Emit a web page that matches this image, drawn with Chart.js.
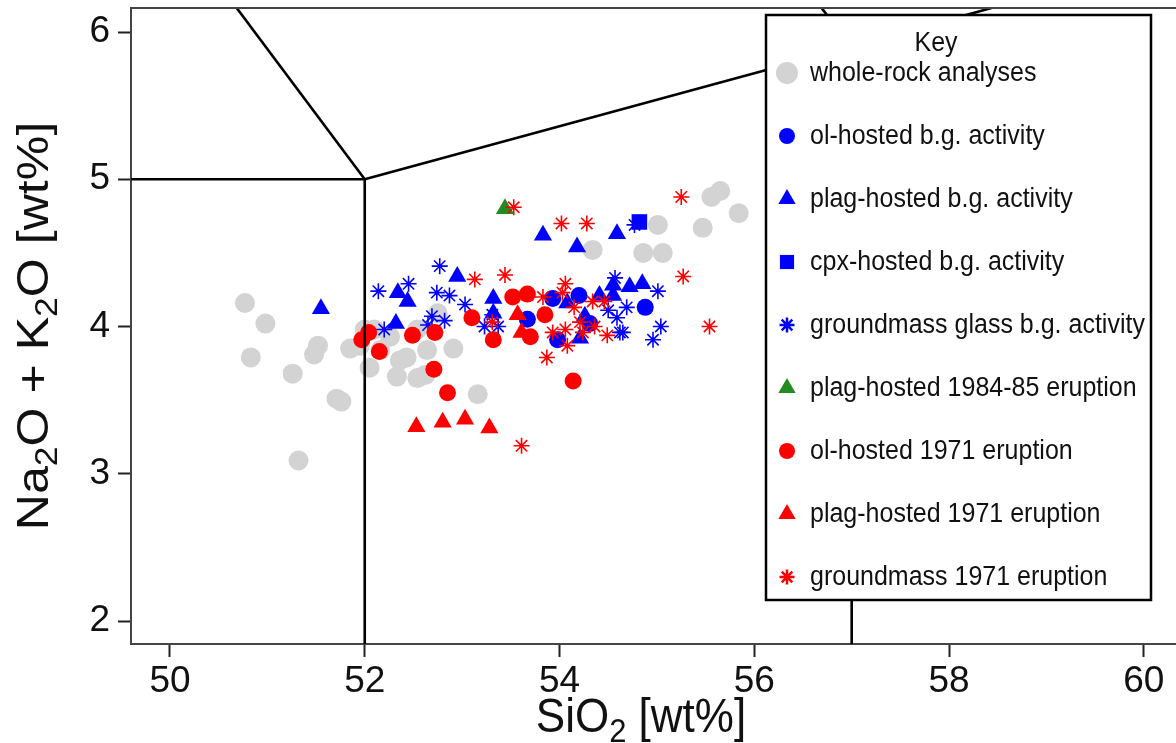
<!DOCTYPE html>
<html>
<head>
<meta charset="utf-8">
<script src="https://cdn.jsdelivr.net/npm/chart.js@4/dist/chart.umd.min.js"></script>
<style>
  html, body { margin: 0; padding: 0; background: #fff; }
  #wrap { width: 1176px; height: 743px; }
</style>
</head>
<body>
<div id="wrap"><canvas id="tas" width="1176" height="743"></canvas></div>
<script>
// values: SiO2 (x) and Na2O+K2O (y), wt%
var wholeRockSi  = [50.77, 50.98, 50.83, 51.26, 51.32, 51.52, 51.48, 51.71, 51.76, 51.85, 52.00, 52.05, 52.16, 52.26, 52.33, 52.43, 52.54, 52.54, 52.62, 52.64, 52.75, 52.91, 53.16, 52.10, 52.36, 51.95, 54.34, 55.01, 54.86, 55.06, 55.56, 55.65, 55.47, 55.84];
var wholeRockAlk = [4.16, 4.02, 3.79, 3.68, 3.09, 3.87, 3.81, 3.51, 3.49, 3.85, 3.98, 3.72, 3.84, 3.93, 3.66, 3.79, 3.98, 3.65, 3.67, 3.84, 4.09, 3.85, 3.54, 3.98, 3.77, 3.87, 4.52, 4.69, 4.50, 4.50, 4.88, 4.92, 4.67, 4.77];

var olBgSi  = [53.93, 54.20, 53.67, 53.98, 54.31, 54.88];
var olBgAlk = [4.19, 4.21, 4.05, 3.91, 4.02, 4.13];

var plagBgSi  = [51.55, 52.34, 52.44, 52.32, 52.95, 53.32, 53.32, 53.83, 54.18, 54.59, 54.41, 54.55, 54.55, 54.72, 54.85, 54.08, 54.26, 54.21];
var plagBgAlk = [4.12, 4.23, 4.17, 4.02, 4.34, 4.19, 4.09, 4.62, 4.54, 4.63, 4.21, 4.28, 4.21, 4.27, 4.29, 4.16, 4.07, 3.92];

var cpxBgSi  = [54.82];
var cpxBgAlk = [4.71];

var gmBgSi  = [52.77, 52.14, 52.45, 52.74, 52.87, 53.03, 52.69, 52.82, 52.65, 52.20, 53.23, 53.37, 53.31, 54.57, 54.50, 54.69, 54.59, 54.62, 54.65, 55.01, 55.04, 54.96, 54.77];
var gmBgAlk = [4.41, 4.24, 4.29, 4.23, 4.21, 4.15, 4.07, 4.04, 4.01, 3.98, 4.00, 4.00, 4.08, 4.33, 4.11, 4.13, 4.06, 3.96, 3.96, 4.24, 4.00, 3.91, 4.69];

var plag8485Si  = [53.44];
var plag8485Alk = [4.80];

var ol71Si  = [52.04, 51.97, 52.15, 52.49, 52.72, 53.10, 53.52, 53.67, 53.32, 52.71, 52.85, 53.85, 53.70, 54.14];
var ol71Alk = [3.96, 3.91, 3.83, 3.94, 3.96, 4.06, 4.20, 4.22, 3.91, 3.71, 3.55, 4.08, 3.93, 3.63];

var plag71Si  = [52.53, 52.80, 53.03, 53.28, 53.57, 53.61];
var plag71Alk = [3.32, 3.35, 3.37, 3.31, 4.08, 3.96];

var gm71Si  = [53.53, 54.02, 54.28, 55.25, 55.27, 55.54, 53.13, 53.44, 54.06, 54.03, 53.83, 54.15, 54.34, 54.46, 54.21, 54.36, 53.93, 54.06, 54.24, 54.49, 54.08, 53.87, 53.61, 53.31];
var gm71Alk = [4.81, 4.70, 4.70, 4.88, 4.34, 4.00, 4.32, 4.35, 4.29, 4.23, 4.20, 4.13, 4.17, 4.17, 4.03, 4.00, 3.96, 3.98, 3.96, 3.94, 3.87, 3.79, 3.19, 4.03];

// TAS field boundaries (Le Bas et al.) that fall in the window
var tasLinesSi  = [[49.4, 52], [45, 52], [52, 52], [52, 57, 63], [57, 57], [57, 53]];
var tasLinesAlk = [[7.3, 5], [5, 5], [0, 5], [5, 5.9, 7], [0, 5.9], [5.9, 9.3]];

var seriesNames = ['whole-rock analyses', 'ol-hosted b.g. activity', 'plag-hosted b.g. activity',
  'cpx-hosted b.g. activity', 'groundmass glass b.g. activity', 'plag-hosted 1984-85 eruption',
  'ol-hosted 1971 eruption', 'plag-hosted 1971 eruption', 'groundmass 1971 eruption'];

var FONT = '"Liberation Sans", Arial, Helvetica, sans-serif';
var GREY = '#d3d3d3', BLUE = '#0000ff', RED = '#ff0000', GREEN = '#228b22';
var STRETCH = 1.1;   // the original picture is a little taller than wide

function pts(xs, ys) {
    var out = [];
    for (var i = 0; i < xs.length; i++) out.push({ x: xs[i], y: ys[i] });
    return out;
}

// style per series: [pointStyle, radius, colour, legend radius]
var looks = [
    ['circle', 10, GREY, 11],
    ['circle', 8.5, BLUE, 8],
    ['triangle', 10.5, BLUE, 10],
    ['rect', 11, BLUE, 10],
    ['star', 8, BLUE, 7.5],
    ['triangle', 10.5, GREEN, 10],
    ['circle', 8.5, RED, 8],
    ['triangle', 10.5, RED, 10],
    ['star', 8, RED, 7.5]
];
var seriesData = [
    pts(wholeRockSi, wholeRockAlk), pts(olBgSi, olBgAlk), pts(plagBgSi, plagBgAlk),
    pts(cpxBgSi, cpxBgAlk), pts(gmBgSi, gmBgAlk), pts(plag8485Si, plag8485Alk),
    pts(ol71Si, ol71Alk), pts(plag71Si, plag71Alk), pts(gm71Si, gm71Alk)
];

var datasets = [];
for (var k = 0; k < tasLinesSi.length; k++) {
    datasets.push({
        label: 'tas' + k,
        data: pts(tasLinesSi[k], tasLinesAlk[k]),
        showLine: true,
        borderColor: '#000',
        borderWidth: 2.6,
        pointRadius: 0,
        fill: false,
        order: 0
    });
}
for (var s = 0; s < seriesNames.length; s++) {
    var lk = looks[s];
    var isStar = lk[0] === 'star';
    datasets.push({
        label: seriesNames[s],
        data: seriesData[s],
        pointStyle: lk[0],
        pointRadius: lk[1],
        pointHoverRadius: lk[1],
        backgroundColor: lk[2],
        borderColor: lk[2],
        borderWidth: isStar ? 1.6 : 0,
        order: seriesNames.length - s
    });
}

// text with lowered small "2" pieces: [text, isSub]
function richWidth(ctx, parts, big, small) {
    var w = 0;
    for (var i = 0; i < parts.length; i++) {
        ctx.font = (parts[i][1] ? small : big) + 'px ' + FONT;
        w += ctx.measureText(parts[i][0]).width;
    }
    return w;
}
function richText(ctx, parts, x, y, big, small, drop) {
    for (var i = 0; i < parts.length; i++) {
        ctx.font = (parts[i][1] ? small : big) + 'px ' + FONT;
        ctx.fillText(parts[i][0], x, parts[i][1] ? y + drop : y);
        x += ctx.measureText(parts[i][0]).width;
    }
}

var extras = {
    id: 'extras',
    afterDraw: function(chart) {
        var ctx = chart.ctx, a = chart.chartArea;
        ctx.save();
        // top frame line
        ctx.strokeStyle = '#444';
        ctx.lineWidth = 2;
        ctx.beginPath();
        ctx.moveTo(a.left, a.top);
        ctx.lineTo(a.right, a.top);
        ctx.stroke();

        // axis titles
        ctx.fillStyle = '#111';
        ctx.textBaseline = 'alphabetic';
        ctx.textAlign = 'left';
        var xt = [['SiO', false], ['2', true], [' [wt%]', false]];
        var w = richWidth(ctx, xt, 44, 31);
        ctx.save();
        ctx.translate(641 - w / 2, 732);
        ctx.scale(1, STRETCH);
        richText(ctx, xt, 0, 0, 44, 31, 9);
        ctx.restore();

        var yt = [['Na', false], ['2', true], ['O + K', false], ['2', true], ['O [wt%]', false]];
        w = richWidth(ctx, yt, 44, 31);
        ctx.save();
        ctx.translate(48, 326);
        ctx.rotate(-Math.PI / 2);
        ctx.scale(1.14, 1);
        richText(ctx, yt, -w / 2, 0, 44, 31, 9);
        ctx.restore();

        // key box
        var bx = 766, by = 15, bw = 385, bh = 585;
        ctx.fillStyle = '#fff';
        ctx.fillRect(bx, by, bw, bh);
        ctx.strokeStyle = '#000';
        ctx.lineWidth = 2.5;
        ctx.strokeRect(bx, by, bw, bh);

        ctx.fillStyle = '#111';
        ctx.textAlign = 'center';
        ctx.textBaseline = 'middle';
        ctx.save();
        ctx.translate(936, 43);
        ctx.scale(1, STRETCH);
        ctx.font = '25px ' + FONT;
        ctx.fillText('Key', 0, 0);
        ctx.restore();
        ctx.textAlign = 'left';
        for (var i = 0; i < seriesNames.length; i++) {
            var yy = 73 + i * 63;
            var lk = looks[i];
            ctx.fillStyle = lk[2];
            ctx.strokeStyle = lk[2];
            Chart.helpers.drawPoint(ctx, {
                pointStyle: lk[0], radius: lk[3], rotation: 0,
                borderWidth: lk[0] === 'star' ? 1.5 : 0
            }, 787, yy);
            ctx.fillStyle = '#111';
            ctx.save();
            ctx.translate(810, yy);
            ctx.scale(1, STRETCH);
            ctx.font = '25px ' + FONT;
            ctx.fillText(seriesNames[i], 0, 0);
            ctx.restore();
        }
        ctx.restore();
    }
};

var ctx = document.getElementById('tas').getContext('2d');
var myChart = new Chart(ctx, {
    type: 'scatter',
    data: { datasets: datasets },
    options: {
        responsive: false,
        animation: false,
        devicePixelRatio: 1,
        events: [],
        layout: { autoPadding: false, padding: { top: 8, right: 0, left: 0, bottom: 0 } },
        plugins: { legend: { display: false }, tooltip: { enabled: false } },
        scales: {
            x: {
                type: 'linear',
                min: 49.6,
                max: 60.33,
                afterFit: function(sc) {
                    sc.height = 99;
                    sc.paddingLeft = 0;
                    sc.paddingRight = 0;
                },
                border: { display: true, color: '#444', width: 2 },
                grid: { drawOnChartArea: false, tickLength: 13, tickColor: '#222', tickWidth: 2 },
                ticks: {
                    stepSize: 2, includeBounds: false, autoSkip: false, maxRotation: 0,
                    color: '#111', padding: 3, font: { family: FONT, size: 37 }
                }
            },
            y: {
                type: 'linear',
                min: 1.844,
                max: 6.163,
                afterFit: function(sc) {
                    sc.width = 131;
                    sc.paddingTop = 0;
                    sc.paddingBottom = 0;
                },
                border: { display: true, color: '#444', width: 2 },
                grid: { drawOnChartArea: false, tickLength: 13, tickColor: '#222', tickWidth: 2 },
                ticks: {
                    stepSize: 1, includeBounds: false, autoSkip: false,
                    color: '#111', padding: 8, font: { family: FONT, size: 37 }
                }
            }
        }
    },
    plugins: [extras]
});
</script>
</body>
</html>
